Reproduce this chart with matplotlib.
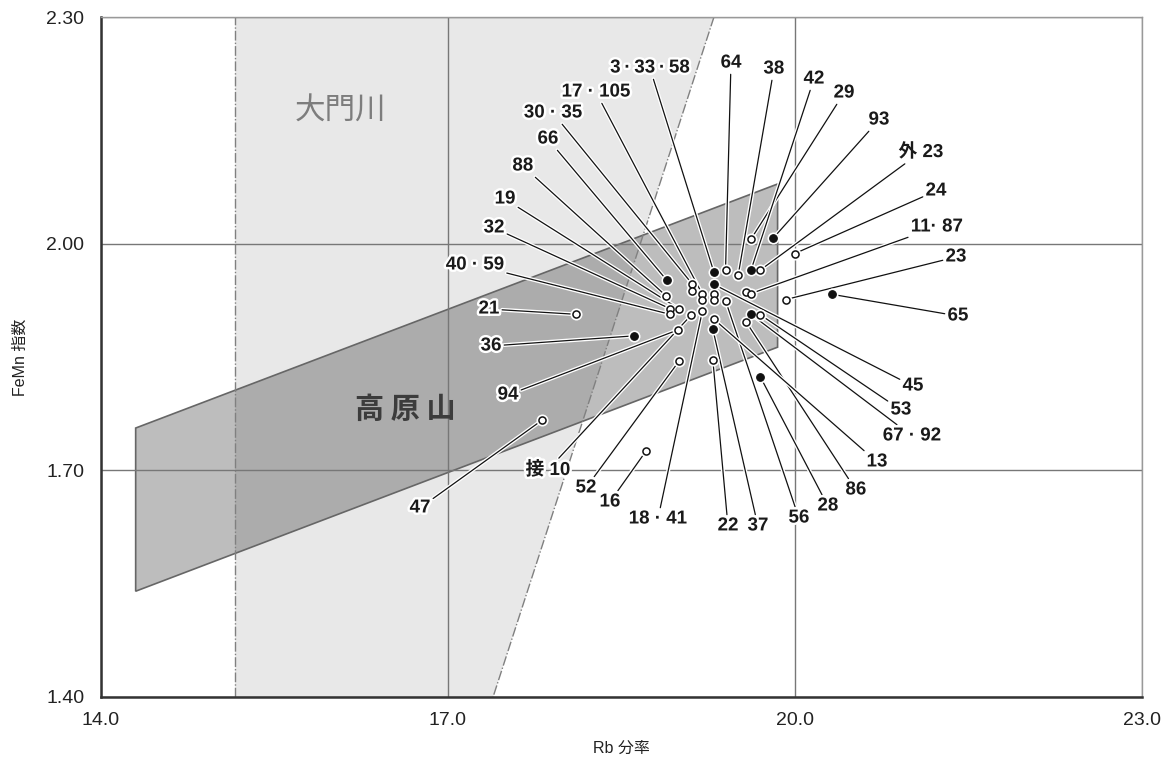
import matplotlib.pyplot as plt
import matplotlib.patheffects as pe
from matplotlib.patches import Polygon

plt.rcParams['font.family'] = ['Liberation Sans', 'Noto Sans CJK JP', 'DejaVu Sans']

# samples: Rb fraction, FeMn index, filled marker or not
rb = [19.62, 19.81, 20.00, 19.30, 19.40, 19.51, 19.62, 19.70, 18.89, 19.30,
      19.11, 19.11, 18.885, 19.20, 19.20, 19.30, 19.30, 19.40, 19.58, 19.62,
      19.92, 20.32, 18.92, 18.92, 19.00, 19.10, 19.20, 19.62, 19.70, 19.58,
      19.30, 19.29, 18.99, 18.61, 19.00, 19.29, 19.70, 18.11, 17.81, 18.71]
femn = [2.006, 2.007, 1.987, 1.962, 1.965, 1.959, 1.965, 1.965, 1.952, 1.946,
        1.947, 1.938, 1.931, 1.933, 1.926, 1.933, 1.926, 1.9245, 1.936, 1.934,
        1.926, 1.933, 1.914, 1.9065, 1.9135, 1.905, 1.911, 1.9065, 1.906, 1.896,
        1.900, 1.887, 1.886, 1.878, 1.845, 1.8465, 1.824, 1.9065, 1.766, 1.725]
filled = [0, 1, 0, 1, 0, 0, 1, 0, 1, 1,
          0, 0, 0, 0, 0, 0, 0, 0, 0, 0,
          0, 1, 0, 0, 0, 0, 0, 1, 0, 0,
          0, 1, 0, 1, 0, 0, 1, 0, 0, 0]

# sample labels, where they sit and which point the leader runs to
lab_text = ['29', '93', '24', '3\u2009·\u200933\u2009·\u200958', '64', '38', '42', '外 23', '66', '45',
            '30 · 35', '88', '17 · 105', '56', '11· 87', '23', '65', '32', '40 · 59', '19',
            '接 10', '18 · 41', '67 · 92', '53', '86', '13', '37', '94', '36', '52',
            '22', '28', '21', '47', '16']
lab_x = [20.424, 20.726, 21.219, 18.746, 19.447, 19.818, 20.164, 21.089, 17.864, 21.020,
         17.908, 17.648, 18.279, 20.034, 21.227, 21.392, 21.409, 17.398, 17.233, 17.493,
         17.864, 18.815, 21.011, 20.916, 20.527, 20.709, 19.680, 17.519, 17.372, 18.193,
         19.421, 20.285, 17.354, 16.758, 18.400]
lab_y = [2.1994, 2.1637, 2.0697, 2.2325, 2.2391, 2.2312, 2.2179, 2.1213, 2.1385, 1.8116,
         2.1730, 2.1028, 2.2007, 1.6369, 2.0221, 1.9824, 1.9043, 2.0208, 1.9718, 2.0591,
         1.7005, 1.6356, 1.7455, 1.7799, 1.6740, 1.7111, 1.6264, 1.7997, 1.8646, 1.6767,
         1.6264, 1.6528, 1.9135, 1.6502, 1.6581]
lab_pt = [0, 1, 2, 3, 4, 5, 6, 7, 8, 9,
          10, 12, 13, 17, 19, 20, 21, 22, 23, 24,
          25, 26, 27, 28, 29, 30, 31, 32, 33, 34,
          35, 36, 37, 38, 39]

# source fields
daimon_x = [15.16, 15.16, 19.30, 17.39]
daimon_y = [1.40, 2.30, 2.30, 1.40]
takahara_x = [14.30, 19.85, 19.85, 14.30]
takahara_y = [1.756, 2.079, 1.863, 1.540]

xticks = [14.0, 17.0, 20.0, 23.0]
yticks = [1.40, 1.70, 2.00, 2.30]

fig = plt.figure(figsize=(11.7, 7.6), dpi=100)
ax = fig.add_axes([0.0863, 0.0829, 0.8897, 0.8947])
ax.set_xlim(xticks[0], xticks[-1])
ax.set_ylim(yticks[0], yticks[-1])

ax.add_patch(Polygon(list(zip(daimon_x, daimon_y)), closed=True,
                     facecolor='#e8e8e8', edgecolor='none', zorder=0.5))
for sl in (slice(0, 2), slice(2, 4)):
    ax.plot(daimon_x[sl], daimon_y[sl], color='#808080', lw=1.0,
            dashes=(7, 1.5, 1, 1.5), zorder=1.2)
ax.add_patch(Polygon(list(zip(takahara_x, takahara_y)), closed=True,
                     facecolor=(0, 0, 0, 0.26), edgecolor='#666666', lw=1.2, zorder=1))

ax.text(16.07, 2.176, '大門川', fontsize=22, color='#7d7d7d',
        ha='center', va='center', family='Noto Sans CJK JP')
ax.text(16.63, 1.781, '高 原 山', fontsize=21, color='#3c3c3c', fontweight='bold',
        ha='center', va='center', family='Noto Sans CJK JP')

ax.set_xticks(xticks)
ax.set_yticks(yticks)
ax.set_xticklabels([f'{v:.1f}' for v in xticks])
ax.set_yticklabels([f'{v:.2f}' for v in yticks])
ax.grid(True, color='#777777', lw=1.0)
ax.tick_params(length=0, labelsize=14, colors='#222222')
ax.tick_params(axis='x', pad=11)
ax.tick_params(axis='y', pad=12)
for side in ('left', 'bottom'):
    ax.spines[side].set_color('#333333')
    ax.spines[side].set_linewidth(1.8)
for side in ('top', 'right'):
    ax.spines[side].set_color('#999999')
    ax.spines[side].set_linewidth(1.0)

ax.set_xlabel('Rb 分率', fontsize=11.5, color='#222222', labelpad=8)
ax.set_ylabel('FeMn 指数', fontsize=11.5, color='#222222', labelpad=13)

halo = [pe.withStroke(linewidth=3.5, foreground='white')]
line_halo = [pe.withStroke(linewidth=2.8, foreground='white')]
for t, x, y, i in zip(lab_text, lab_x, lab_y, lab_pt):
    ann = ax.annotate(t, xy=(rb[i], femn[i]), xytext=(x, y),
                      ha='center', va='center', fontsize=13.5, fontweight='bold',
                      color='#1a1a1a', zorder=3,
                      arrowprops=dict(arrowstyle='-', color='#111111', lw=0.9,
                                      shrinkA=0, shrinkB=0, path_effects=line_halo))
    ann.set_path_effects(halo)

open_x = [x for x, f in zip(rb, filled) if not f]
open_y = [y for y, f in zip(femn, filled) if not f]
fill_x = [x for x, f in zip(rb, filled) if f]
fill_y = [y for y, f in zip(femn, filled) if f]
ax.scatter(rb, femn, s=75, color='white', lw=0, zorder=4)
ax.scatter(open_x, open_y, s=26, facecolor='white', edgecolor='#111111', lw=1.1, zorder=5)
ax.scatter(fill_x, fill_y, s=30, facecolor='#111111', edgecolor='#111111', lw=0.8, zorder=5)

fig.savefig('out.png', dpi=100)
